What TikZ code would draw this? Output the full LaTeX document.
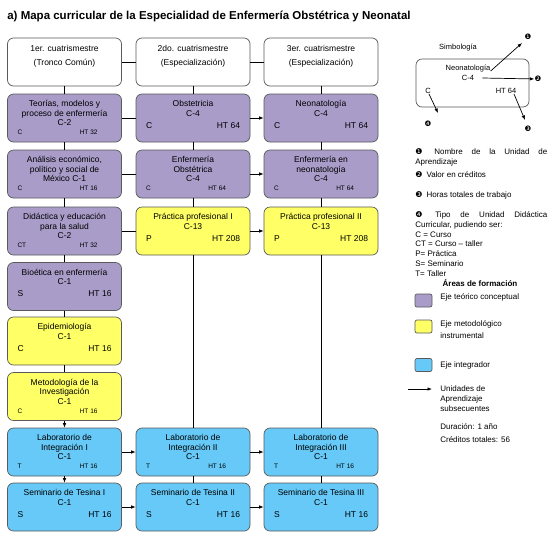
\documentclass[tikz,border=0pt]{standalone}
\usepackage{fontspec}
\setmainfont{Liberation Sans}
\newfontfamily\dingfont{DejaVu Sans}
\usepackage{tikz}
\usetikzlibrary{calc,arrows.meta}

\definecolor{morado}{HTML}{A99CC9}
\definecolor{amarillo}{HTML}{FFFF66}
\definecolor{azul}{HTML}{66C9F7}
\definecolor{borde}{HTML}{5A5A5A}

% altura fija del primer renglon
\newcommand{\puntal}{\rule{0pt}{7pt}}
% unidad con dos renglones (pie grande)
\newcommand{\uniA}[6]{%
  \node[caja,fill=#3] (#1) at (#2) {};
  \node[titulo] (#1t) at ([yshift=-5.5pt]#1.north) {\puntal#4};
  \node[pieA,anchor=west] (#1a) at ([shift={(10pt,17pt)}]#1.south west) {#5};
  \node[pieA,anchor=east] (#1b) at ([shift={(-10pt,17pt)}]#1.south east) {#6};}
% unidad con tres renglones (pie chico)
\newcommand{\uniB}[6]{%
  \node[caja,fill=#3] (#1) at (#2) {};
  \node[titulo] (#1t) at ([yshift=-5.5pt]#1.north) {\puntal#4};
  \node[pieB,anchor=west] (#1a) at ([shift={(10pt,10pt)}]#1.south west) {#5};
  \node[pieB,anchor=east] (#1b) at ([shift={(-24pt,10pt)}]#1.south east) {#6};}

\begin{document}
\begin{tikzpicture}[x=1pt,y=-1pt,line width=0.7pt,>={Latex[length=4.5pt,width=3.5pt]},
  caja/.style={draw=borde,rounded corners=6pt,minimum width=114pt,minimum height=48pt,inner sep=0pt},
  titulo/.style={anchor=north,align=center,inner sep=0pt,font=\fontsize{8.5}{9.5}\selectfont},
  cabeza/.style={titulo,font=\fontsize{8.5}{14}\selectfont},
  pieA/.style={inner sep=0pt,font=\fontsize{8.5}{9}\selectfont},
  pieB/.style={inner sep=0pt,font=\fontsize{6.5}{7}\selectfont},
  leyenda/.style={inner sep=0pt,anchor=north west,align=left,font=\fontsize{8}{9.7}\selectfont},
  simbolo/.style={inner sep=0pt,font=\fontsize{7.5}{9}\selectfont},
  num/.style={inner sep=0pt,font=\dingfont\fontsize{7.5}{9}\selectfont},
  muestra/.style={draw=borde,rounded corners=2pt,minimum width=17pt,minimum height=13pt,inner sep=0pt}]
\fill[white] (0,0) rectangle (548,539);
\useasboundingbox (0,0) rectangle (548,539);

\node[anchor=base west,inner sep=0pt,font=\bfseries\fontsize{11.5}{13}\selectfont] (encabezado) at (7,19)
  {a) Mapa curricular de la Especialidad de Enfermería Obstétrica y Neonatal};

% cuatrimestres
\node[caja,fill=white] (h1) at (64.5,62) {};
\node[cabeza] (h1t) at ([yshift=-6.5pt]h1.north) {\puntal 1er. cuatrismestre\\(Tronco Común)};
\node[caja,fill=white] (h2) at (193,62) {};
\node[cabeza] (h2t) at ([yshift=-6.5pt]h2.north) {\puntal 2do. cuatrismestre\\(Especialización)};
\node[caja,fill=white] (h3) at (321,62) {};
\node[cabeza] (h3t) at ([yshift=-6.5pt]h3.north) {\puntal 3er. cuatrismestre\\(Especialización)};

% primer cuatrimestre
\uniB{t1}{64.5,118}{morado}{Teorías, modelos y\\proceso de enfermería\\C-2}{C}{HT 32}
\uniB{a1}{64.5,174}{morado}{Análisis económico,\\político y social de\\México C-1}{C}{HT 16}
\uniB{d1}{64.5,231}{morado}{Didáctica y educación\\para la salud\\C-2}{CT}{HT 32}
\uniA{b1}{64.5,286.5}{morado}{Bioética en enfermería\\C-1}{S}{HT 16}
\uniA{e1}{64.5,341}{amarillo}{Epidemiología\\C-1}{C}{HT 16}
\uniB{m1}{64.5,396.5}{amarillo}{Metodología de la\\Investigación\\C-1}{C}{HT 16}
\uniB{l1}{64.5,452}{azul}{Laboratorio de\\Integración I\\C-1}{T}{HT 16}
\uniA{s1}{64.5,507}{azul}{Seminario de Tesina I\\C-1}{S}{HT 16}

% segundo cuatrimestre
\uniA{o2}{193,118}{morado}{Obstetricia\\C-4}{C}{HT 64}
\uniB{eo2}{193,174}{morado}{Enfermería\\Obstétrica\\C-4}{C}{HT 64}
\uniA{p2}{193,231}{amarillo}{Práctica profesional I\\C-13}{P}{HT 208}
\uniB{l2}{193,452}{azul}{Laboratorio de\\Integración II\\C-1}{T}{HT 16}
\uniA{s2}{193,507}{azul}{Seminario de Tesina II\\C-1}{S}{HT 16}

% tercer cuatrimestre
\uniA{n3}{321,118}{morado}{Neonatología\\C-4}{C}{HT 64}
\uniB{en3}{321,174}{morado}{Enfermería en\\neonatología\\C-4}{C}{HT 64}
\uniA{p3}{321,231}{amarillo}{Práctica profesional II\\C-13}{P}{HT 208}
\uniB{l3}{321,452}{azul}{Laboratorio de\\Integración III\\C-1}{T}{HT 16}
\uniA{s3}{321,507}{azul}{Seminario de Tesina III\\C-1}{S}{HT 16}

% conexiones
\draw (h1) -- (t1) (t1) -- (a1) (a1) -- (d1) (d1) -- (b1) (b1) -- (e1) (e1) -- (m1);
\draw[->] (m1) -- (l1);
\draw[->] (l1) -- (s1);
\draw (h2) -- (o2) (o2) -- (eo2) (eo2) -- (p2) (p2) -- (l2) (l2) -- (s2);
\draw (h3) -- (n3) (n3) -- (en3) (en3) -- (p3) (p3) -- (l3) (l3) -- (s3);
\draw (h1) -- (h2) (h2) -- (h3);
\draw (t1) -- (o2) (a1) -- (eo2) (d1) -- (p2);
\draw[->] (o2) -- (n3);
\draw[->] (eo2) -- (en3);
\draw[->] (p2) -- (p3);
\draw[->] (l1) -- (l2);
\draw[->] (l2) -- (l3);
\draw[->] (s1) -- (s2);
\draw[->] (s2) -- (s3);

% simbologia
\node[simbolo] (simbt) at (458,48) {Simbología};
\node[caja,fill=white,minimum width=113pt] (simb) at (472.5,83) {};
\node[simbolo] (neo) at (468,69) {Neonatología};
\node[simbolo] (neoc) at (468,78) {C-4};
\node[simbolo] (neotipo) at (428,91) {C};
\node[simbolo] (neoht) at (506,91) {HT 64};
\node[num] (d1n) at (528,37) {❶};
\node[num] (d2n) at (538,79) {❷};
\node[num] (d3n) at (528,129) {❸};
\node[num] (d4n) at (428,124) {❹};
\coordinate (f1) at (522,43);
\coordinate (f3) at (525,120);
\coordinate (f4) at (438,113);
\draw[->] ([yshift=-2pt]neo.east) -- (f1);
\draw[->] ([xshift=8pt]neoc.east) -- (d2n);
\draw[->] ([xshift=1pt]neotipo.south) -- (f4);
\draw[->] ([xshift=8pt]neoht.south) -- (f3);

\node[leyenda] (ley1) at (415,147.5)
  {\puntal\makebox[132pt][s]{{\dingfont ❶}\hspace{3pt} Nombre de la Unidad de}\\Aprendizaje};
\node[leyenda] (ley2) at (415,170.5) {\puntal{\dingfont ❷}\hspace{4pt}Valor en créditos};
\node[leyenda] (ley3) at (415,190.5) {\puntal{\dingfont ❸}\hspace{4pt}Horas totales de trabajo};
\node[leyenda] (ley4) at (415,210.5)
  {\puntal\makebox[132pt][s]{{\dingfont ❹}\hspace{3pt} Tipo de Unidad Didáctica}\\Curricular, pudiendo ser:\\C = Curso\\CT = Curso -- taller\\P= Práctica\\S= Seminario\\T= Taller};
\node[simbolo,font=\bfseries\fontsize{8}{9}\selectfont] (areas) at (480,283) {Áreas de formación};

\node[muestra,fill=morado] (sw1) at (423.5,300.5) {};
\node[leyenda] (sw1t) at (440,292.5) {\puntal Eje teórico conceptual};
\node[muestra,fill=amarillo] (sw2) at (423.5,326.5) {};
\node[leyenda,font=\fontsize{8}{12}\selectfont] (sw2t) at (440,319.5) {\puntal Eje metodológico\\instrumental};
\node[muestra,fill=azul] (sw3) at (423.5,365) {};
\node[leyenda] (sw3t) at (440,360.5) {\puntal Eje integrador};

\coordinate (fa) at (408,389);
\coordinate (fb) at (432,389);
\draw[->] (fa) -- (fb);
\node[leyenda] (unid) at (440,384.5) {\puntal Unidades de\\Aprendizaje\\subsecuentes};
\node[leyenda,font=\fontsize{8}{13}\selectfont] (dur) at (440,422.5) {\puntal Duración: 1 año\\Créditos totales: 56};
\end{tikzpicture}
\end{document}
